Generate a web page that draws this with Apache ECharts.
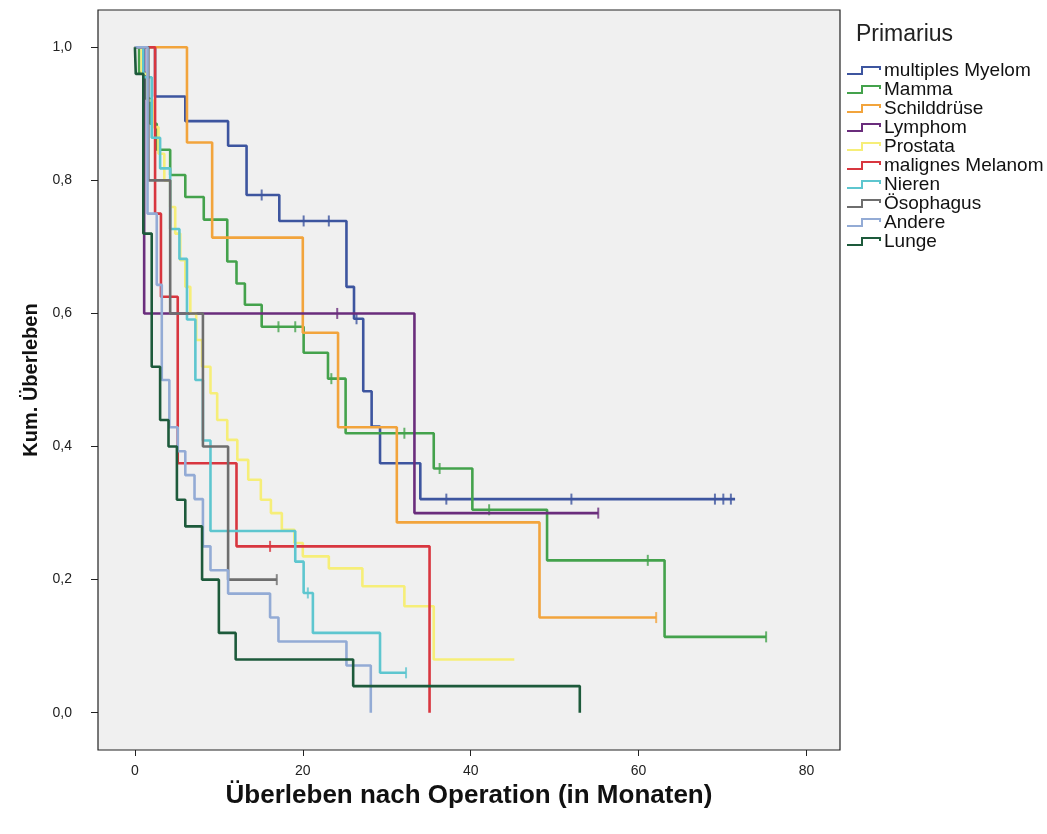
<!DOCTYPE html>
<html>
<head>
<meta charset="utf-8">
<script src="https://cdn.jsdelivr.net/npm/echarts@6/dist/echarts.min.js"></script>
<style>html,body{margin:0;padding:0;background:#fff}#c{width:1047px;height:834px}</style>
</head>
<body>
<div id="c"></div>
<script>
// ---- data ----
const categories = ['multiples Myelom','Mamma','Schilddrüse','Lymphom','Prostata','malignes Melanom','Nieren','Ösophagus','Andere','Lunge'];
const colors = ['#3d559f','#44a24c','#f2a43c','#6a2d7c','#f6ee78','#d8363f','#5ec6cf','#6e6e6e','#93abd5','#1d5a3b'];

const myelomTimes = [2.4, 6.0, 11.1, 13.3, 17.2, 25.2, 26.1, 27.2, 28.2, 29.2, 34.0];
const myelomSurv  = [0.926, 0.889, 0.852, 0.778, 0.739, 0.640, 0.592, 0.483, 0.430, 0.375, 0.321];
const myelomEnd = 71.5;
const myelomCensor = [15.1, 20.1, 23.1, 26.4, 37.1, 52.0, 69.1, 70.1, 71.0];

const mammaTimes = [0.5, 1.2, 1.8, 2.6, 4.2, 6.0, 8.2, 11.0, 12.1, 13.1, 15.1, 20.1, 23.0, 25.1, 35.6, 40.2, 49.1, 63.1];
const mammaSurv  = [0.962, 0.923, 0.885, 0.846, 0.808, 0.775, 0.741, 0.678, 0.645, 0.613, 0.580, 0.541, 0.502, 0.420, 0.367, 0.305, 0.229, 0.114];
const mammaEnd = 75.2;
const mammaCensor = [17.1, 19.1, 23.4, 32.1, 36.3, 42.2, 61.1, 75.2];

const schildTimes = [6.2, 9.2, 20.0, 24.2, 31.2, 48.2];
const schildSurv  = [0.857, 0.714, 0.571, 0.429, 0.286, 0.143];
const schildEnd = 62.1;
const schildCensor = [62.1];

const lymphomTimes = [1.1, 33.3];
const lymphomSurv  = [0.6, 0.3];
const lymphomEnd = 55.2;
const lymphomCensor = [24.1, 55.2];

const prostataTimes = [0.8, 1.5, 2.2, 2.8, 3.5, 4.2, 4.8, 5.4, 6.0, 6.6, 7.3, 8.0, 9.0, 9.8, 11.0, 12.2, 13.5, 15.0, 16.2, 17.5, 19.0, 20.0, 23.1, 27.1, 32.1, 35.6];
const prostataSurv  = [0.96, 0.92, 0.88, 0.84, 0.80, 0.76, 0.72, 0.68, 0.64, 0.60, 0.56, 0.52, 0.48, 0.44, 0.41, 0.38, 0.35, 0.32, 0.30, 0.275, 0.255, 0.235, 0.217, 0.19, 0.16, 0.08];
const prostataEnd = 45.2;
const prostataCensor = [];

const melanomTimes = [2.4, 3.1, 5.1, 12.1, 35.1];
const melanomSurv  = [0.75, 0.625, 0.375, 0.25, 0];
const melanomEnd = 35.1;
const melanomCensor = [16.1];

const nierenTimes = [1.0, 2.0, 3.0, 4.2, 5.3, 6.2, 7.2, 8.1, 9.0, 19.1, 20.1, 21.2, 29.2];
const nierenSurv  = [0.955, 0.864, 0.818, 0.727, 0.682, 0.591, 0.5, 0.409, 0.273, 0.227, 0.18, 0.12, 0.06];
const nierenEnd = 32.3;
const nierenCensor = [20.6, 32.3];

const oesoTimes = [1.6, 4.2, 8.1, 11.1];
const oesoSurv  = [0.8, 0.6, 0.4, 0.2];
const oesoEnd = 16.9;
const oesoCensor = [16.9];

const andereTimes = [1.5, 2.6, 3.2, 4.1, 5.1, 6.0, 7.1, 8.1, 9.0, 11.1, 16.1, 17.1, 25.2, 28.1];
const andereSurv  = [0.75, 0.643, 0.5, 0.429, 0.393, 0.357, 0.321, 0.25, 0.214, 0.179, 0.143, 0.107, 0.071, 0];
const andereEnd = 28.1;
const andereCensor = [];

const lungeTimes = [0.1, 1.0, 2.0, 3.0, 4.0, 5.0, 6.0, 8.0, 10.0, 12.0, 26.0, 53.0];
const lungeSurv  = [0.96, 0.72, 0.52, 0.44, 0.40, 0.32, 0.28, 0.20, 0.12, 0.08, 0.04, 0];
const lungeEnd = 53.0;
const lungeCensor = [];

const xTicks = [0, 20, 40, 60, 80];
const yTicks = [0, 0.2, 0.4, 0.6, 0.8, 1.0];

// ---- build ----
const groups = [
  [myelomTimes, myelomSurv, myelomEnd, myelomCensor],
  [mammaTimes, mammaSurv, mammaEnd, mammaCensor],
  [schildTimes, schildSurv, schildEnd, schildCensor],
  [lymphomTimes, lymphomSurv, lymphomEnd, lymphomCensor],
  [prostataTimes, prostataSurv, prostataEnd, prostataCensor],
  [melanomTimes, melanomSurv, melanomEnd, melanomCensor],
  [nierenTimes, nierenSurv, nierenEnd, nierenCensor],
  [oesoTimes, oesoSurv, oesoEnd, oesoCensor],
  [andereTimes, andereSurv, andereEnd, andereCensor],
  [lungeTimes, lungeSurv, lungeEnd, lungeCensor]
];
function stepPoints(times, surv, end) {
  const pts = [[0, 1]]; let prev = 1;
  times.forEach((t, i) => { pts.push([t, prev]); pts.push([t, surv[i]]); prev = surv[i]; });
  if (end > times[times.length - 1]) pts.push([end, prev]);
  return pts;
}
function survAt(times, surv, t) {
  let s = 1;
  times.forEach((tt, i) => { if (tt <= t) s = surv[i]; });
  return s;
}
const FONT = '"Liberation Sans", Arial, sans-serif';
const series = [];
groups.forEach((g, i) => {
  series.push({
    name: categories[i], type: 'line', data: stepPoints(g[0], g[1], g[2]),
    showSymbol: false, symbol: 'none', color: colors[i],
    lineStyle: { width: 2.6, color: colors[i] }, z: 2 + i, silent: true, animation: false
  });
  if (g[3].length) series.push({
    name: categories[i] + ' (zensiert)', type: 'scatter',
    data: g[3].map(t => [t, survAt(g[0], g[1], t)]),
    symbol: 'rect', symbolSize: [2, 11], itemStyle: { color: colors[i] }, z: 2 + i, silent: true, animation: false
  });
});
const stepIcon = 'path://M0,7 L14,7 L14,0 L34,0 L34,4 L32,4 L32,2 L16,2 L16,9 L0,9 Z';

const chart = echarts.init(document.getElementById('c'));
chart.setOption({
  backgroundColor: '#ffffff',
  animation: false,
  textStyle: { fontFamily: FONT },
  title: { text: 'Primarius', left: 856, top: 23, padding: 0, textStyle: { fontSize: 23, fontWeight: 'normal', color: '#222', fontFamily: FONT } },
  legend: {
    data: categories.map(n => ({ name: n, icon: stepIcon })),
    orient: 'vertical', left: 847, top: 61, itemWidth: 36, itemHeight: 9, itemGap: 0, padding: 0,
    textStyle: { fontSize: 19, lineHeight: 19, color: '#111', fontFamily: FONT, padding: [0, 0, 0, -3] },
    lineStyle: { opacity: 0 }, selectedMode: false
  },
  grid: { left: 98, right: 207, top: 10, bottom: 84, show: true, backgroundColor: '#f0f0f0', borderColor: '#222', borderWidth: 1.2 },
  xAxis: {
    type: 'value', min: -4.4, max: 84, position: 'bottom',
    name: 'Überleben nach Operation (in Monaten)', nameLocation: 'middle', nameGap: 33,
    nameTextStyle: { fontSize: 26, fontWeight: 'bold', color: '#111', fontFamily: FONT },
    axisLine: { show: false, onZero: false }, splitLine: { show: false },
    axisTick: { show: true, length: 6, customValues: xTicks, lineStyle: { color: '#222' } },
    axisLabel: { customValues: xTicks, fontSize: 14, color: '#222', margin: 14, fontFamily: FONT }
  },
  yAxis: {
    type: 'value', min: -0.056, max: 1.056, position: 'left',
    name: 'Kum. Überleben', nameLocation: 'middle', nameGap: 57, nameRotate: 90,
    nameTextStyle: { fontSize: 20, fontWeight: 'bold', color: '#111', fontFamily: FONT },
    axisLine: { show: false, onZero: false }, splitLine: { show: false },
    axisTick: { show: true, length: 7, customValues: yTicks, lineStyle: { color: '#222' } },
    axisLabel: { customValues: yTicks, fontSize: 14, color: '#222', margin: 26, fontFamily: FONT,
      formatter: v => v.toFixed(1).replace('.', ',') }
  },
  series: series
});
</script>
</body>
</html>
